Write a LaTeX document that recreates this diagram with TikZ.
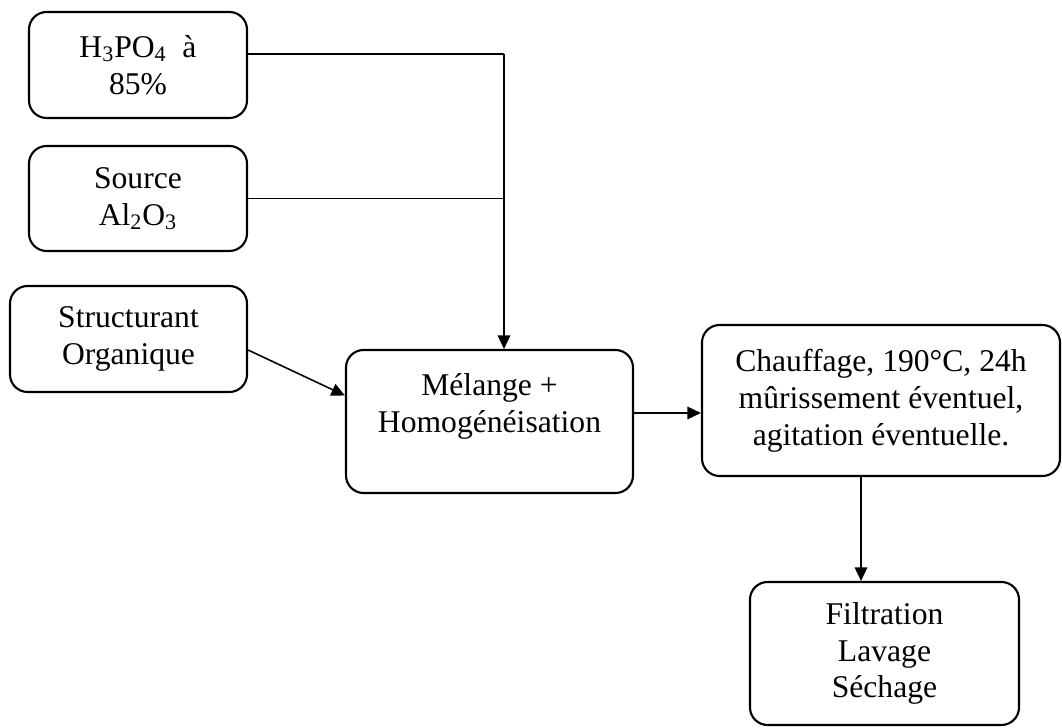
\documentclass[tikz,border=0pt]{standalone}
\usepackage{fontspec}
\setmainfont{Liberation Serif}
\usepackage{tikz}
\usetikzlibrary{arrows.meta,calc}
\tikzstyle{procbox}=[draw, rounded corners=10pt, line width=1.2pt, align=center, inner sep=0pt, font=\fontsize{18}{21}\selectfont]
\tikzstyle{flow}=[line width=0.9pt, -{Triangle[length=0.27cm,width=0.25cm]}]

\begin{document}
\begin{tikzpicture}
	\useasboundingbox (0,0) rectangle (21.24,-14.56);
	\node[procbox, minimum width=4.36cm, minimum height=2.12cm] (acide) at (2.76,-1.30) {H\textsubscript{3}PO\textsubscript{4}\ \ à\\85\%};
	\node[procbox, minimum width=4.36cm, minimum height=2.10cm] (source) at (2.76,-3.97) {Source\\Al\textsubscript{2}O\textsubscript{3}};
	\node[procbox, minimum width=4.74cm, minimum height=2.12cm] (struct) at (2.57,-6.78) {Structurant\\Organique};
	\node[procbox, minimum width=5.74cm, minimum height=2.86cm] (melange) at (9.79,-8.43) {Mélange +\\Homogénéisation\\~};
	\node[procbox, minimum width=7.16cm, minimum height=3.02cm] (chauf) at (17.62,-8.01) {Chauffage, 190°C, 24h\\mûrissement éventuel,\\agitation éventuelle.};
	\node[procbox, minimum width=5.38cm, minimum height=2.86cm] (filtre) at (17.69,-13.07) {Filtration\\Lavage\\Séchage};
	\coordinate (jn) at (10.08,-1.08);
	\draw[line width=0.9pt] ($(acide.east)+(0,0.22)$) -- (jn);
	\draw[line width=0.9pt] (source.east) -- (source.east -| jn);
	\draw[flow] (jn) -- (jn |- melange.north);
	\draw[flow] ($(struct.east)+(0,-0.22)$) -- ($(melange.west)+(0,0.52)$);
	\draw[flow] ($(melange.east)+(0,0.17)$) coordinate (m1) -- (m1 -| chauf.west);
	\draw[flow] ($(chauf.south)+(-0.40,0)$) coordinate (c1) -- (c1 |- filtre.north);
\end{tikzpicture}
\end{document}
